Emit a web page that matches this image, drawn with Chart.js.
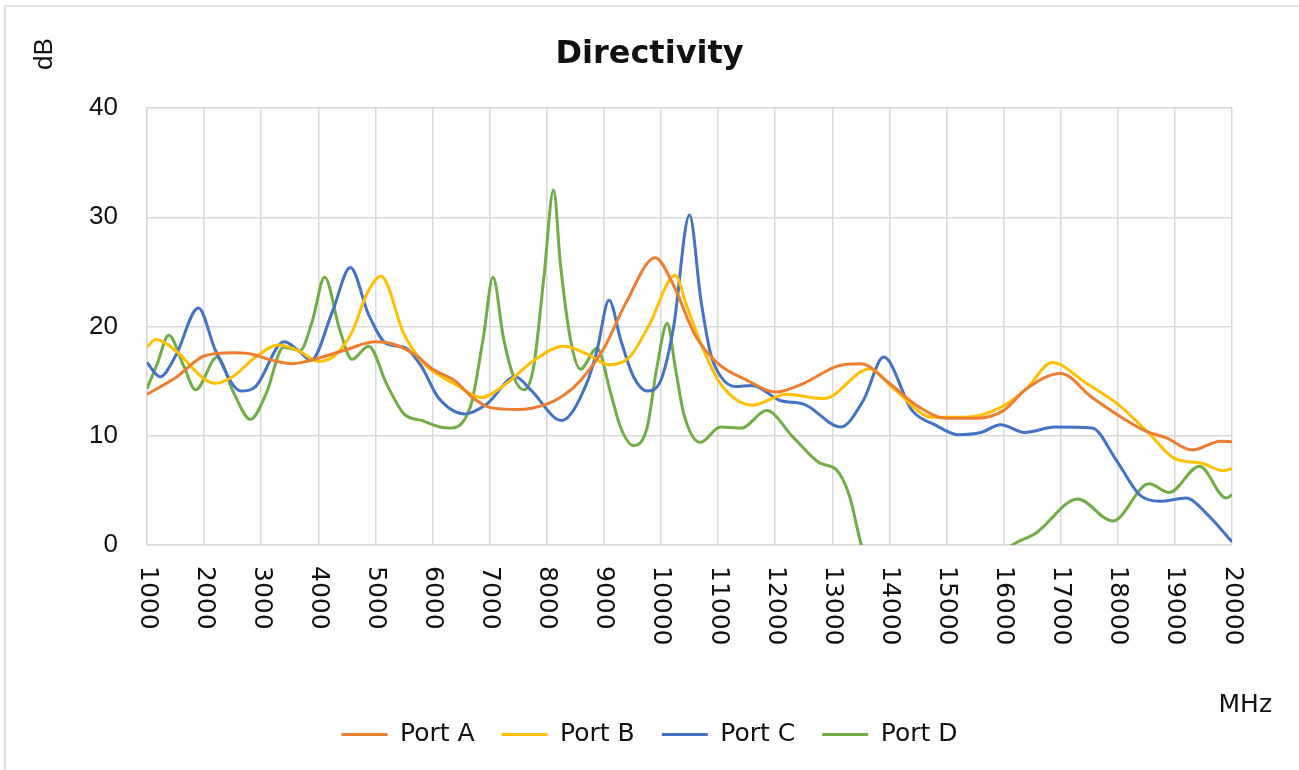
<!DOCTYPE html>
<html>
<head>
<meta charset="utf-8">
<script src="https://cdn.jsdelivr.net/npm/chart.js@4.4.1/dist/chart.umd.min.js"></script>
<style>
  html, body { margin: 0; padding: 0; background: #fff; }
  #wrap { width: 1299px; height: 770px; position: relative; }
</style>
</head>
<body>
<div id="wrap"><canvas id="dirChart"></canvas></div>
<script>
// axis ticks
var freqTicks = [1000, 2000, 3000, 4000, 5000, 6000, 7000, 8000, 9000, 10000,
  11000, 12000, 13000, 14000, 15000, 16000, 17000, 18000, 19000, 20000];
var dbTicks = [0, 10, 20, 30, 40];

// Port A
var portAFreq = [1000, 1500, 2000, 2500, 2800, 3200, 3550, 4000, 4500, 5000, 5300, 5700, 6000, 6400, 6700, 7000, 7500, 8000, 8300, 8600, 9000, 9400, 9900, 10200, 10600, 11000, 11500, 12000, 12500, 13100, 13500, 14000, 14500, 15000, 15500, 16000, 16400, 17000, 17550, 18000, 18500, 18850, 19300, 19800, 20000];
var portA = [13.8, 15.3, 17.3, 17.6, 17.5, 16.9, 16.6, 17.1, 17.9, 18.6, 18.4, 17.4, 16.1, 15.0, 13.5, 12.6, 12.4, 12.9, 13.7, 15.1, 18.0, 22.3, 26.3, 24.0, 19.2, 16.6, 15.1, 14.0, 14.8, 16.4, 16.6, 14.8, 12.7, 11.6, 11.6, 12.3, 14.3, 15.7, 13.5, 11.9, 10.4, 9.8, 8.7, 9.5, 9.45];

// Port B
var portBFreq = [1000, 1150, 1500, 2000, 2200, 2500, 2900, 3300, 3650, 4000, 4300, 4600, 4850, 5100, 5500, 5850, 6100, 6400, 6850, 7300, 7750, 8300, 8700, 9100, 9450, 9800, 10250, 10450, 10750, 11050, 11600, 12200, 12850, 13650, 14100, 14750, 15350, 15950, 16400, 16850, 17450, 18000, 18550, 19000, 19450, 19850, 20000];
var portB = [18.1, 18.8, 17.8, 15.2, 14.8, 15.4, 17.2, 18.3, 17.8, 16.8, 17.4, 19.6, 23.0, 24.6, 19.3, 16.6, 15.6, 14.7, 13.5, 14.8, 16.8, 18.2, 17.5, 16.5, 17.2, 20.2, 24.7, 21.9, 17.8, 14.7, 12.8, 13.8, 13.4, 16.1, 14.2, 11.7, 11.7, 12.6, 14.3, 16.7, 14.8, 12.9, 10.2, 7.9, 7.5, 6.8, 7.0];

// Port C
var portCFreq = [1000, 1230, 1500, 1900, 2200, 2650, 2900, 3400, 3650, 3870, 4250, 4560, 4880, 5200, 5500, 5800, 6100, 6570, 6950, 7450, 7720, 8260, 8700, 8880, 9090, 9300, 9520, 9760, 10000, 10220, 10500, 10700, 10870, 11050, 11300, 11600, 12100, 12500, 13150, 13550, 13900, 14400, 14800, 15200, 15600, 15950, 16370, 16900, 17550, 17970, 18380, 18730, 19200, 19550, 20000];
var portC = [16.7, 15.4, 17.3, 21.7, 17.8, 14.1, 14.5, 18.6, 17.8, 16.9, 21.4, 25.4, 21.1, 18.4, 18.1, 16.4, 13.5, 12.0, 12.9, 15.4, 14.2, 11.4, 14.8, 17.8, 22.4, 18.7, 15.4, 14.1, 15.1, 19.9, 30.2, 22.4, 17.5, 15.4, 14.5, 14.6, 13.2, 12.9, 10.8, 13.3, 17.2, 12.3, 11.0, 10.1, 10.3, 11.0, 10.3, 10.8, 10.7, 7.8, 4.6, 4.0, 4.3, 2.9, 0.3];

// Port D
var portDFreq = [1000, 1180, 1380, 1650, 1850, 2230, 2520, 2810, 3090, 3390, 3680, 3900, 4110, 4380, 4590, 4880, 5200, 5500, 5810, 6130, 6280, 6660, 6890, 7060, 7240, 7420, 7600, 7770, 7950, 8120, 8240, 8420, 8590, 8880, 9120, 9290, 9520, 9760, 9930, 10110, 10250, 10400, 10690, 11040, 11410, 11850, 12310, 12780, 13070, 13300, 13510, 13800, 14500, 15300, 15800, 16100, 16570, 17300, 17910, 18550, 18900, 19430, 19900, 20000];
var portD = [14.3, 16.6, 19.2, 16.3, 14.2, 17.2, 13.9, 11.5, 13.9, 18.1, 17.8, 20.6, 24.5, 19.6, 17.0, 18.2, 14.7, 12.0, 11.4, 10.8, 10.7, 12.6, 19.0, 24.5, 19.0, 15.4, 14.2, 16.3, 24.5, 32.5, 25.7, 18.7, 16.1, 18.0, 13.9, 10.8, 9.1, 10.8, 16.3, 20.3, 16.3, 12.0, 9.4, 10.8, 10.7, 12.3, 9.9, 7.5, 6.9, 4.5, 0, -4, -7, -5, -2, -0.2, 1.1, 4.2, 2.2, 5.6, 4.8, 7.2, 4.3, 4.6];

function toPoints(xs, ys) {
  var pts = [];
  for (var i = 0; i < xs.length; ++i) {
    pts.push({ x: xs[i], y: ys[i] });
  }
  return pts;
}

function makeSet(label, xs, ys, color) {
  return {
    label: label,
    data: toPoints(xs, ys),
    borderColor: color,
    backgroundColor: color,
    borderWidth: 3,
    pointRadius: 0,
    cubicInterpolationMode: 'monotone',
    fill: false
  };
}

var gridGray = '#d9d9d9';

// frame, rotated x labels, unit labels
var extras = {
  id: 'extras',
  beforeDraw: function(chart) {
    var ctx = chart.ctx;
    ctx.save();
    ctx.fillStyle = '#fff';
    ctx.fillRect(0, 0, chart.width, chart.height);
    ctx.strokeStyle = gridGray;
    ctx.lineWidth = 1.5;
    ctx.strokeRect(5, 6, chart.width + 20, chart.height + 20);
    ctx.restore();
  },
  afterDraw: function(chart) {
    var ctx = chart.ctx;
    var xs = chart.scales.x;
    ctx.save();
    ctx.fillStyle = '#111';
    ctx.font = '25px "DejaVu Sans"';
    ctx.textAlign = 'left';
    ctx.textBaseline = 'middle';
    for (var i = 0; i < freqTicks.length; ++i) {
      var px = xs.getPixelForValue(freqTicks[i]);
      ctx.save();
      ctx.translate(px, 566);
      ctx.rotate(Math.PI / 2);
      ctx.fillText(String(freqTicks[i]), 0, 0);
      ctx.restore();
    }
    ctx.textAlign = 'right';
    ctx.fillText('MHz', 1272, 705);

    ctx.font = '26px "Liberation Sans"';
    ctx.translate(45, 54);
    ctx.rotate(-Math.PI / 2);
    ctx.textAlign = 'center';
    ctx.fillText('dB', 0, 0);
    ctx.restore();
  }
};

var ctx = document.getElementById('dirChart').getContext('2d');
var dirChart = new Chart(ctx, {
  type: 'line',
  data: {
    datasets: [
      makeSet('Port A', portAFreq, portA, '#ED7D31'),
      makeSet('Port B', portBFreq, portB, '#FFC000'),
      makeSet('Port C', portCFreq, portC, '#4472C4'),
      makeSet('Port D', portDFreq, portD, '#70AD47')
    ]
  },
  options: {
    responsive: true,
    maintainAspectRatio: false,
    animation: false,
    layout: { padding: { left: 0, right: 0, top: 0, bottom: 13 } },
    plugins: {
      title: {
        display: true,
        text: 'Directivity',
        color: '#111',
        font: { family: 'DejaVu Sans', size: 32, weight: 'bold' },
        padding: { top: 35, bottom: 34.6 }
      },
      legend: {
        position: 'bottom',
        labels: {
          color: '#111',
          font: { family: 'DejaVu Sans', size: 25 },
          usePointStyle: true,
          pointStyle: 'line',
          pointStyleWidth: 46,
          padding: 27
        }
      },
      tooltip: { enabled: false }
    },
    scales: {
      x: {
        type: 'linear',
        min: 1000,
        max: 20000,
        afterBuildTicks: function(scale) {
          scale.ticks = freqTicks.map(function(v) { return { value: v }; });
        },
        afterFit: function(scale) { scale.height = 150; },
        ticks: { display: false },
        grid: { color: gridGray, lineWidth: 1.5, drawTicks: false },
        border: { color: gridGray, width: 1.5 }
      },
      y: {
        min: 0,
        max: 40,
        afterBuildTicks: function(scale) {
          scale.ticks = dbTicks.map(function(v) { return { value: v }; });
        },
        afterFit: function(scale) { scale.width = 147; },
        ticks: {
          color: '#111',
          padding: 29,
          font: { family: 'Liberation Sans', size: 26 }
        },
        grid: { color: gridGray, lineWidth: 1.5, drawTicks: false },
        border: { color: gridGray, width: 1.5 }
      },
      yRight: {
        position: 'right',
        display: true,
        afterFit: function(scale) { scale.width = 67; },
        ticks: { display: false },
        grid: { display: false, drawOnChartArea: false },
        border: { display: false }
      }
    }
  },
  plugins: [extras]
});
</script>
</body>
</html>
